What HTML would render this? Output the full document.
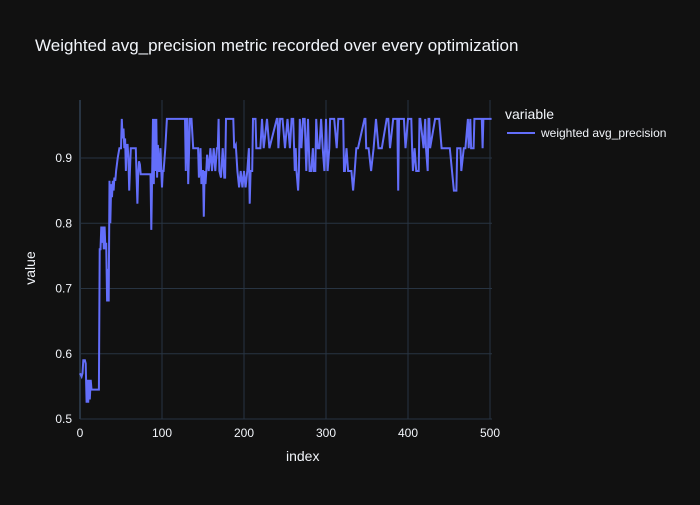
<!DOCTYPE html>
<html><head><meta charset="utf-8"><style>
body{margin:0;background:#111;}
svg text{font-family:"Liberation Sans",sans-serif;fill:#f2f5fa;}
</style></head><body>
<svg id="c" width="700" height="500">
<rect width="700" height="500" fill="#111111"/>
<g id="grid"></g><g id="plot"></g><g id="axes"></g>
<text x="35" y="51" font-size="17">Weighted avg_precision metric recorded over every optimization</text>
<text x="286" y="461" font-size="14">index</text>
<text transform="translate(35,268) rotate(-90)" text-anchor="middle" font-size="14">value</text>
<g>
<text x="505" y="119" font-size="14">variable</text>
<line x1="507" y1="133" x2="535" y2="133" stroke="#636efa" stroke-width="2"/>
<text x="541" y="137" font-size="12">weighted avg_precision</text>
</g>
</svg>
<script>
const xTicks=[0,100,200,300,400,500];
const yTicks=[0.5,0.6,0.7,0.8,0.9];
const idx=[0,2,3,4,6,7,8,9,10,11,12,13,14,15,16,23,24,25,26,27,28,29,30,31,32,33,34,35,36,37,38,39,40,41,42,43,44,46,48,50,51,52,53,54,55,56,57,58,59,60,62,65,68,69,70,71,72,73,74,76,86,87,88,89,90,91,92,93,94,95,96,97,98,100,101,102,104,106,108,128,129,130,131,132,134,136,138,144,145,146,147,148,149,150,151,152,153,154,155,157,159,161,163,165,167,168,169,170,172,174,176,177,178,179,187,188,190,192,194,196,198,200,202,204,206,207,208,210,211,214,215,220,222,224,228,231,240,241,242,244,247,250,253,256,258,260,262,263,264,266,267,268,270,272,274,276,278,280,282,284,285,287,288,290,292,294,296,298,300,302,304,305,310,313,315,318,321,322,323,325,327,329,331,333,335,337,339,347,348,349,352,355,358,361,364,366,368,374,376,378,382,386,387,388,389,390,395,397,400,404,405,406,408,410,413,414,415,419,421,422,424,425,426,427,433,435,438,441,447,448,451,456,459,460,464,465,468,470,473,474,476,477,480,481,484,488,490,491,492,496,502];
const vals=[0.57,0.565,0.57,0.59,0.59,0.585,0.525,0.56,0.525,0.56,0.53,0.56,0.545,0.545,0.545,0.545,0.76,0.76,0.795,0.77,0.795,0.76,0.795,0.76,0.77,0.68,0.73,0.68,0.865,0.80,0.86,0.84,0.865,0.85,0.87,0.865,0.88,0.9,0.915,0.915,0.96,0.93,0.945,0.915,0.93,0.88,0.92,0.92,0.9,0.85,0.915,0.915,0.915,0.87,0.83,0.875,0.895,0.89,0.875,0.875,0.875,0.79,0.88,0.96,0.86,0.96,0.88,0.96,0.87,0.92,0.88,0.88,0.915,0.855,0.88,0.88,0.915,0.96,0.96,0.96,0.88,0.96,0.96,0.86,0.96,0.96,0.915,0.915,0.87,0.88,0.915,0.86,0.88,0.88,0.81,0.88,0.86,0.88,0.905,0.88,0.915,0.88,0.915,0.88,0.915,0.915,0.96,0.88,0.87,0.915,0.87,0.87,0.96,0.96,0.96,0.915,0.92,0.88,0.855,0.88,0.855,0.88,0.855,0.88,0.915,0.83,0.88,0.88,0.96,0.96,0.915,0.915,0.96,0.915,0.96,0.915,0.96,0.96,0.915,0.96,0.96,0.915,0.96,0.915,0.96,0.96,0.88,0.915,0.88,0.85,0.88,0.96,0.915,0.96,0.96,0.88,0.96,0.88,0.88,0.915,0.88,0.88,0.96,0.915,0.915,0.96,0.915,0.88,0.96,0.88,0.915,0.96,0.96,0.915,0.96,0.96,0.96,0.88,0.88,0.915,0.88,0.88,0.88,0.85,0.88,0.915,0.915,0.96,0.96,0.915,0.915,0.88,0.915,0.96,0.915,0.915,0.915,0.96,0.96,0.915,0.96,0.96,0.96,0.85,0.96,0.96,0.96,0.915,0.96,0.96,0.915,0.88,0.915,0.88,0.88,0.96,0.96,0.915,0.96,0.915,0.88,0.96,0.96,0.915,0.96,0.96,0.96,0.915,0.915,0.915,0.915,0.85,0.85,0.915,0.915,0.88,0.915,0.915,0.96,0.915,0.96,0.915,0.915,0.96,0.96,0.96,0.96,0.915,0.96,0.96,0.96];
const xs=v=>80+v*0.82;
const ys=v=>419-(v-0.5)*652.5;
const ns="http://www.w3.org/2000/svg";
const grid=document.getElementById('grid'),axes=document.getElementById('axes'),plot=document.getElementById('plot');
xTicks.forEach(t=>{
  if(t>0){const l=document.createElementNS(ns,'line');
  
  
  l.setAttribute('x1',xs(t));l.setAttribute('x2',xs(t));l.setAttribute('y1',100);l.setAttribute('y2',419);l.setAttribute('stroke','#283442');grid.appendChild(l);}
  const tx=document.createElementNS(ns,'text');
  
  
  tx.setAttribute('x',xs(t));tx.setAttribute('y',437);tx.setAttribute('text-anchor','middle');tx.setAttribute('font-size','12');tx.textContent=t;axes.appendChild(tx);
});
yTicks.forEach(t=>{
  const l=document.createElementNS(ns,'line');
  
  
  l.setAttribute('x1',80);l.setAttribute('x2',492);l.setAttribute('y1',ys(t));l.setAttribute('y2',ys(t));l.setAttribute('stroke','#283442');grid.appendChild(l);
  const tx=document.createElementNS(ns,'text');
  
  
  tx.setAttribute('x',72);tx.setAttribute('y',ys(t)+4);tx.setAttribute('text-anchor','end');tx.setAttribute('font-size','12');tx.textContent=t;axes.appendChild(tx);
});
const zl=document.createElementNS(ns,'line');


zl.setAttribute('x1',80);zl.setAttribute('x2',80);zl.setAttribute('y1',100);zl.setAttribute('y2',419);zl.setAttribute('stroke','#283442');zl.setAttribute('stroke-width','2');grid.appendChild(zl);
const p=document.createElementNS(ns,'path');


p.setAttribute('d',idx.map((x,i)=>(i?'L':'M')+xs(x).toFixed(1)+' '+ys(vals[i]).toFixed(1)).join(''));
p.setAttribute('fill','none');p.setAttribute('stroke','#636efa');p.setAttribute('stroke-width','2');
plot.appendChild(p);
</script>
</body></html>
